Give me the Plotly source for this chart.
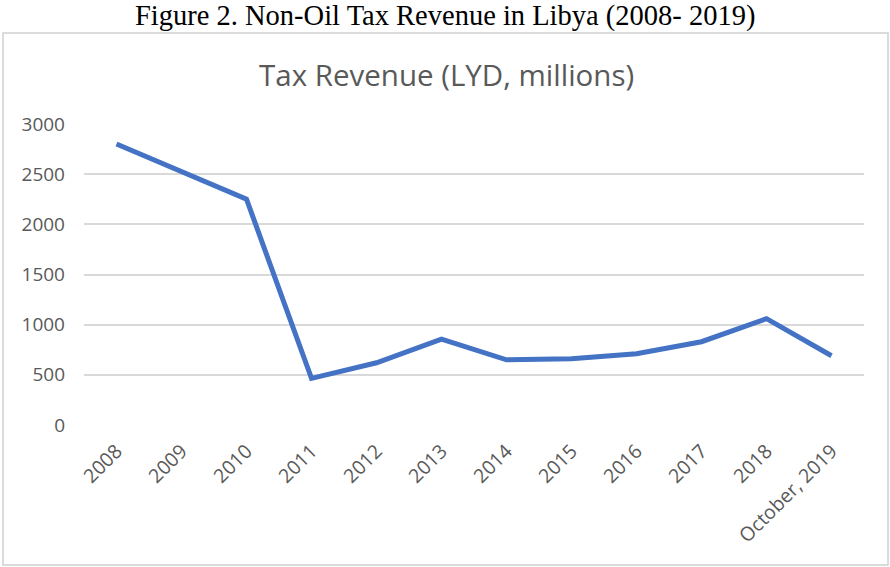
import plotly.graph_objects as go

# Datos
years = ['2008', '2009', '2010', '2011', '2012', '2013', '2014', '2015',
         '2016', '2017', '2018', 'October, 2019']
tax_revenue = [2800, 2520, 2250, 465, 620, 855, 650, 660, 710, 830, 1060, 690]
y_ticks = [0, 500, 1000, 1500, 2000, 2500, 3000]

W, H = 890, 567
L, R, T, B = 84, 26, 124, 142
pw, ph = W - L - R, H - T - B

def px_x(x):
    return (x - L) / pw

def px_y(y):
    return (H - B - y) / ph

fig = go.Figure(go.Scatter(
    x=years, y=tax_revenue, mode='lines',
    line=dict(color='#4472C4', width=5),
    showlegend=False,
))

fig.update_layout(
    width=W, height=H,
    margin=dict(l=L, r=R, t=T, b=B),
    paper_bgcolor='white', plot_bgcolor='white',
    font=dict(family='Open Sans', color='#595959', size=18),
    xaxis=dict(type='category', range=[-0.5, 11.5], showgrid=False,
               showline=False, ticks='', tickangle=-45,
               ticklabelstandoff=10,
               tickfont=dict(size=19.5, color='#595959')),
    yaxis=dict(range=[0, 3000], tickvals=y_ticks, showgrid=True,
               gridcolor='#d9d9d9', gridwidth=1.5, zeroline=False,
               showline=False, ticks='', ticklabelstandoff=18,
               tickfont=dict(size=19, color='#595959')),
    shapes=[dict(type='rect', xref='paper', yref='paper',
                 x0=px_x(3), x1=px_x(888), y0=px_y(565), y1=px_y(33),
                 line=dict(color='#d0d0d0', width=1.5))],
    annotations=[
        dict(text='Figure 2. Non-Oil Tax Revenue in Libya (2008- 2019)',
             x=px_x(445), y=px_y(16), xref='paper', yref='paper',
             showarrow=False, xanchor='center', yanchor='middle',
             font=dict(family='Liberation Serif', size=28.5, color='black')),
        dict(text='Tax Revenue (LYD, millions)',
             x=px_x(446), y=px_y(75), xref='paper', yref='paper',
             showarrow=False, xanchor='center', yanchor='middle',
             font=dict(family='Open Sans', size=29.5, color='#595959')),
    ],
)

fig.write_html('out.html', config={'displayModeBar': False},
               post_script="document.body.style.margin='0';")
